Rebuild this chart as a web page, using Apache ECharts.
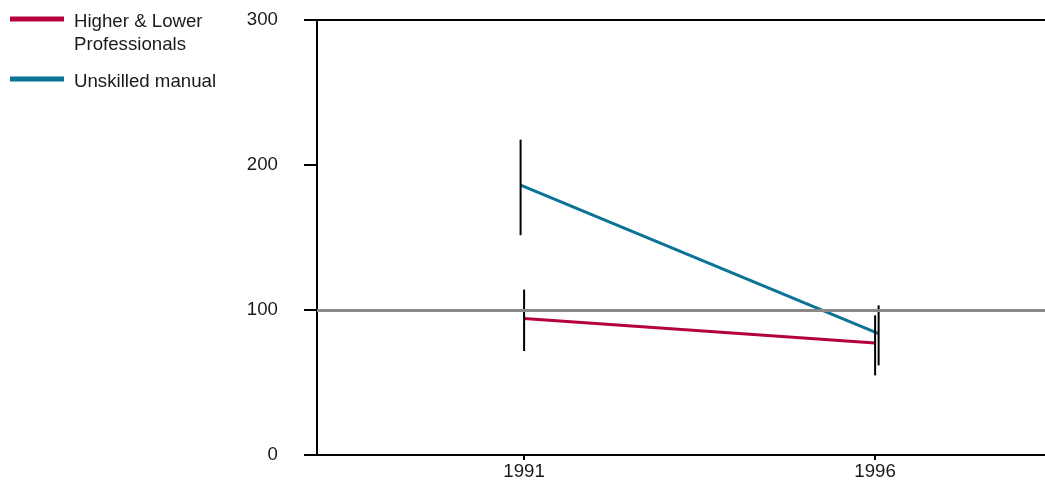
<!DOCTYPE html>
<html>
<head>
<meta charset="utf-8">
<script src="https://cdn.jsdelivr.net/npm/echarts@6/dist/echarts.min.js"></script>
<style>html,body{margin:0;padding:0;background:#fff;}#c{width:1045px;height:485px;}</style>
</head>
<body>
<div id="c"></div>
<script>
var seriesNames = ['Higher & Lower Professionals', 'Unskilled manual'];
var years = [1991, 1996];
// x positions (slight jitter as drawn), value, lower, upper
var higherX = [1991, 1996];
var higherVal = [94.1, 77.2];
var higherLow = [71.7, 54.9];
var higherHigh = [114.1, 96.3];
var unskilledX = [1990.95, 1996.05];
var unskilledVal = [186.1, 83.7];
var unskilledLow = [151.6, 61.8];
var unskilledHigh = [217.5, 103.2];
var referenceValue = 100;

var colors = ['#b5003e', '#0b7396'];

function pts(xs, vs) { return xs.map(function (x, i) { return [x, vs[i]]; }); }
function bars(xs, lo, hi) { return xs.map(function (x, i) { return [x, lo[i], hi[i]]; }); }

var errData = bars(higherX, higherLow, higherHigh).concat(bars(unskilledX, unskilledLow, unskilledHigh));

var chart = echarts.init(document.getElementById('c'));
chart.setOption({
  animation: false,
  textStyle: { fontFamily: 'Liberation Sans, Arial, sans-serif' },
  grid: { left: 317, top: 20, right: 0, bottom: 30 },
  legend: {
    orient: 'vertical', left: 10, top: -18.5, padding: 0,
    itemWidth: 54, itemHeight: 5, itemGap: 8, icon: 'rect',
    textStyle: { fontSize: 18.67, color: '#1a1a1a', lineHeight: 23, padding: [0, 0, 0, 5],
      rich: { s: { lineHeight: 29, fontSize: 4 }, t: { lineHeight: 6, fontSize: 4 } } },
    formatter: function (n) {
      return n === seriesNames[0] ? '{s| }\nHigher & Lower\nProfessionals' : '{t| }\n' + n;
    },
    data: [seriesNames[0], seriesNames[1]]
  },
  xAxis: [{
    type: 'value', min: 1988.05, max: 1998.42,
    axisLine: { show: true, lineStyle: { color: '#000', width: 2 } },
    axisTick: { show: true, length: 5, lineStyle: { color: '#000', width: 2 },
      customValues: years },
    axisLabel: { fontSize: 18.67, color: '#1a1a1a', margin: 7, customValues: years,
      formatter: function (v) { return String(Math.round(v)); } },
    splitLine: { show: false }
  }, {
    type: 'value', position: 'top', min: 1988.05, max: 1998.42,
    axisLine: { show: true, lineStyle: { color: '#000', width: 2 } },
    axisTick: { show: false }, axisLabel: { show: false }, splitLine: { show: false }
  }],
  yAxis: {
    type: 'value', min: 0, max: 300, interval: 100,
    axisLine: { show: true, lineStyle: { color: '#000', width: 2 } },
    axisTick: { show: true, length: 13, lineStyle: { color: '#000', width: 2 } },
    axisLabel: { fontSize: 18.67, color: '#1a1a1a', margin: 39 },
    splitLine: { show: false }
  },
  series: [
    {
      name: 'ref', type: 'line', data: [], silent: true,
      markLine: { silent: true, symbol: ['none', 'none'], label: { show: false },
        lineStyle: { color: '#888888', width: 3, type: 'solid' },
        data: [{ yAxis: referenceValue }] }
    },
    {
      name: seriesNames[0], type: 'line', data: pts(higherX, higherVal),
      showSymbol: false, symbol: 'none', color: colors[0],
      lineStyle: { color: colors[0], width: 3 }, z: 3
    },
    {
      name: seriesNames[1], type: 'line', data: pts(unskilledX, unskilledVal),
      showSymbol: false, symbol: 'none', color: colors[1],
      lineStyle: { color: colors[1], width: 3 }, z: 3
    },
    {
      name: 'err', type: 'custom', data: errData, z: 4,
      renderItem: function (params, api) {
        var p1 = api.coord([api.value(0), api.value(1)]);
        var p2 = api.coord([api.value(0), api.value(2)]);
        return { type: 'line', shape: { x1: p1[0], y1: p1[1], x2: p2[0], y2: p2[1] },
          style: { stroke: '#000', lineWidth: 2 } };
      }
    }
  ]
});
</script>
</body>
</html>
